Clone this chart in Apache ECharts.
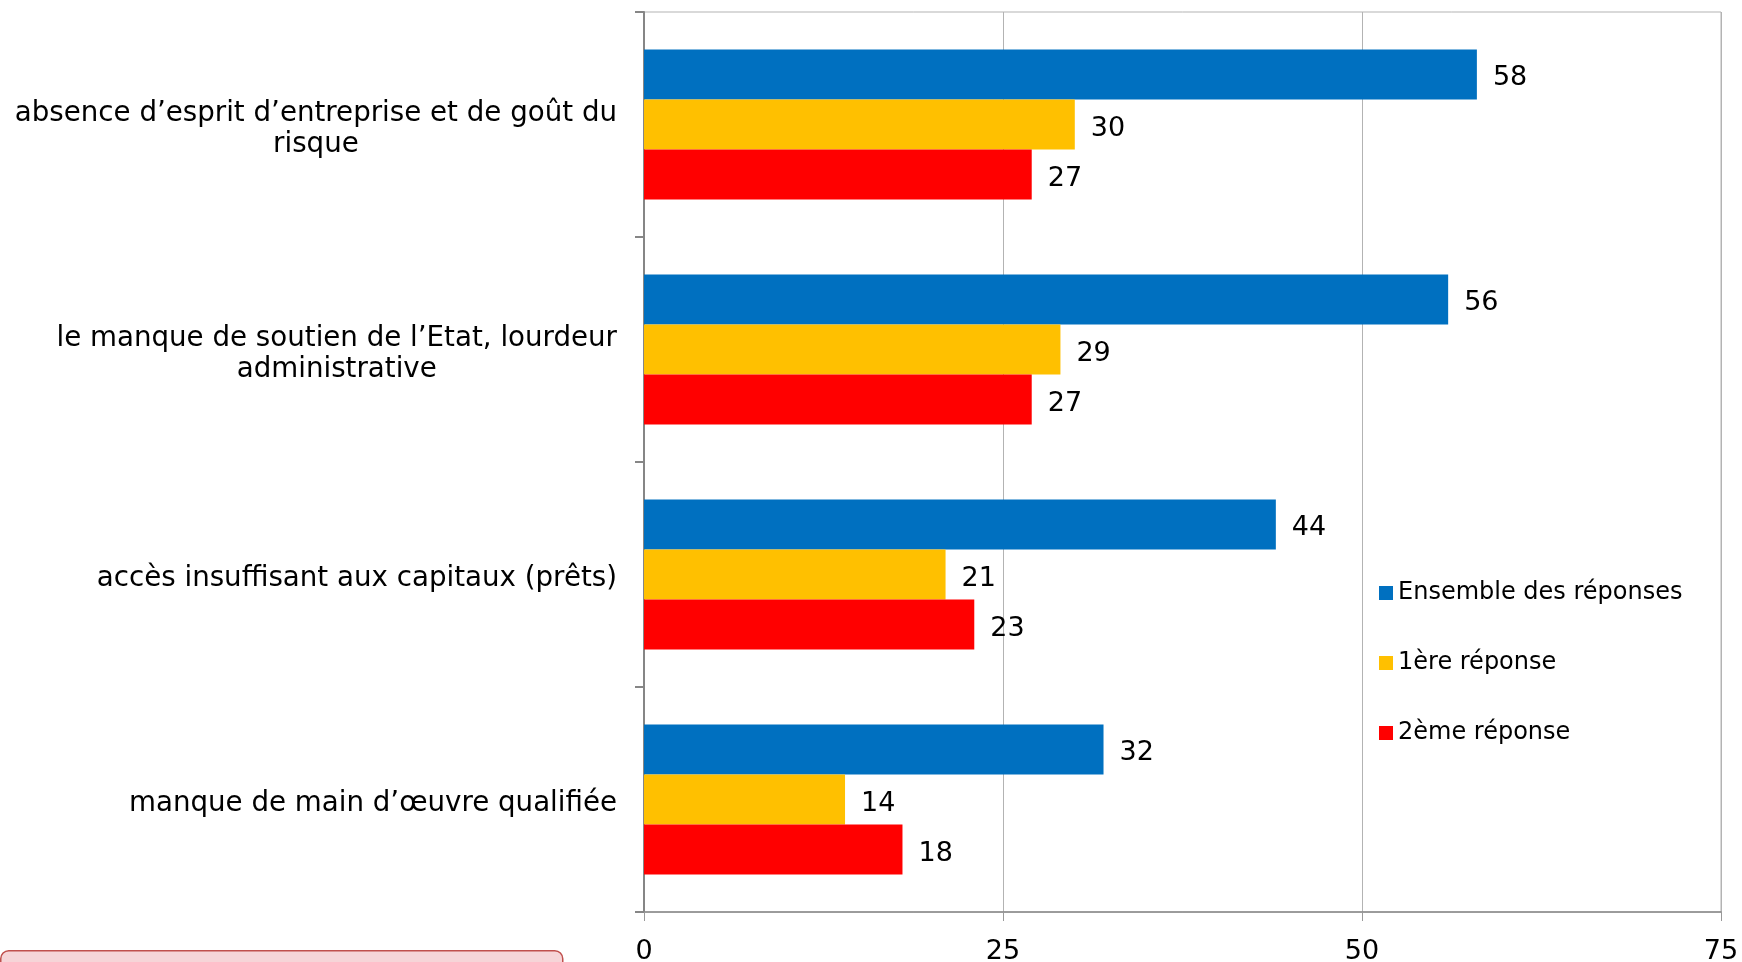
<!DOCTYPE html>
<html>
<head>
<meta charset="utf-8">
<style>
  html, body { margin: 0; padding: 0; background: #fff; }
  #chart { width: 1742px; height: 962px; }
</style>
<script src="https://cdn.jsdelivr.net/npm/echarts@6/dist/echarts.min.js"></script>
</head>
<body>
<div id="chart"></div>
<script>
const categories = [
  'absence d’esprit d’entreprise et de goût du\nrisque',
  'le manque de soutien de l’Etat, lourdeur\nadministrative',
  'accès insuffisant aux capitaux (prêts)',
  'manque de main d’œuvre qualifiée'
];
const seriesNames = ['Ensemble des réponses', '1ère réponse', '2ème réponse'];
const ensemble = [58, 56, 44, 32];
const premiere = [30, 29, 21, 14];
const deuxieme = [27, 27, 23, 18];
const xTicks = [0, 25, 50, 75];
const colors = ['#0070c0', '#ffc000', '#ff0000'];

const chart = echarts.init(document.getElementById('chart'));
const font = 'DejaVu Sans';

const makeSeries = (name, data, color) => ({
  name: name,
  type: 'bar',
  data: data,
  barGap: '0%',
  barCategoryGap: '33.3%',
  itemStyle: { color: color },
  label: {
    show: true,
    position: 'right',
    distance: 16,
    offset: [0, 4],
    color: '#000',
    fontFamily: font,
    fontSize: 27
  }
});

chart.setOption({
  animation: false,
  textStyle: { fontFamily: font },
  grid: {
    left: 644, top: 12, right: 21, bottom: 50,
    outerBoundsMode: 'none',
    containLabel: false,
    show: true, borderColor: '#b3b3b3', borderWidth: 1
  },
  legend: {
    orient: 'vertical',
    left: 1374,
    top: 576,
    itemWidth: 14,
    itemHeight: 14,
    itemGap: 46,
    icon: 'rect',
    data: seriesNames,
    textStyle: { fontFamily: font, fontSize: 24, color: '#000', lineHeight: 24 }
  },
  xAxis: {
    type: 'value',
    min: xTicks[0],
    max: xTicks[xTicks.length - 1],
    interval: 25,
    axisLine: { show: true, lineStyle: { color: '#888', width: 1.5 } },
    axisTick: { show: true, length: 9, lineStyle: { color: '#999' } },
    splitLine: { show: true, lineStyle: { color: '#b3b3b3', width: 1 } },
    axisLabel: { color: '#000', fontSize: 27, fontFamily: font, margin: 26 }
  },
  yAxis: {
    type: 'category',
    inverse: true,
    data: categories,
    axisLine: { show: true, lineStyle: { color: '#868686', width: 2 } },
    axisTick: { show: true, length: 9, lineStyle: { color: '#868686', width: 2 } },
    axisLabel: {
      margin: 27,
      color: '#000',
      padding: [9, 0, 0, 0],
      formatter: v => v.split('\n').map(l => '{c|' + l + '}').join('\n'),
      rich: {
        c: { align: 'center', fontFamily: font, fontSize: 27.7, lineHeight: 31, color: '#000' }
      }
    }
  },
  series: [
    makeSeries(seriesNames[0], ensemble, colors[0]),
    makeSeries(seriesNames[1], premiere, colors[1]),
    makeSeries(seriesNames[2], deuxieme, colors[2])
  ],
  graphic: [{
    type: 'rect',
    left: 0,
    top: 950,
    shape: { width: 562, height: 30, r: 8 },
    style: { fill: '#f6d5d8', stroke: '#c0504d', lineWidth: 1.5 }
  }]
});
</script>
</body>
</html>
